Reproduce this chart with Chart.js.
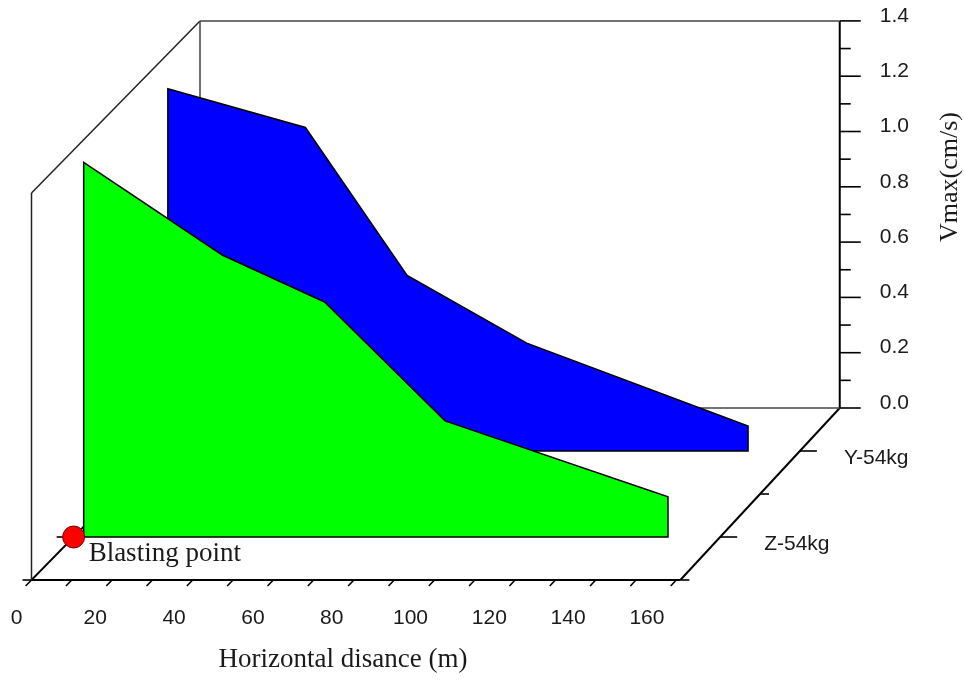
<!DOCTYPE html>
<html>
<head>
<meta charset="utf-8">
<script src="https://cdn.jsdelivr.net/npm/chart.js@4.4.1/dist/chart.umd.min.js"></script>
<style>
  html, body { margin: 0; padding: 0; background: #fff; }
  #wrap { width: 964px; height: 682px; position: relative; }
</style>
</head>
<body>
<div id="wrap"><canvas id="chart"></canvas></div>
<script>
// values
const distances = [2.5, 37, 62.5, 92.5, 148];      // horizontal distance (m)
const seriesNames = ['Z-54kg', 'Y-54kg'];
const vmaxZ = [1.355, 1.02, 0.85, 0.42, 0.145];     // cm/s
const vmaxY = [1.31, 1.17, 0.635, 0.39, 0.09];
const xTicks = [0, 20, 40, 60, 80, 100, 120, 140, 160];
const yTicks = [0.0, 0.2, 0.4, 0.6, 0.8, 1.0, 1.2, 1.4];
const blastDistance = 0;
const xMax = 161;
const yMax = 1.4;

// oblique 3D projection of the wall plot
const PX_X = 4.03, PX_Y = 276.5;   // pixels per unit on the front plane
const X0 = 31.5, Y0 = 580;         // front origin
const DEPTH_DX = 168.5, DEPTH_DY = 172;
const SHRINK = 0.014;              // slight perspective toward the back
const W = 964, H = 682;

function project(d, v, z) {
  return {
    x: d * (1 - SHRINK * z) + z * DEPTH_DX / PX_X,
    y: v + z * DEPTH_DY / PX_Y
  };
}
function depthOf(i) { return (i + 0.5) / seriesNames.length; }

function wallLine(pts, color, width) {
  return {
    data: pts.map(p => project(p[0], p[1], p[2])),
    borderColor: color, borderWidth: width, pointRadius: 0,
    fill: false, tension: 0, order: 10
  };
}
function wallSeries(vals, i, color) {
  const z = depthOf(i);
  const pts = [project(distances[0], 0, z)];
  vals.forEach((v, k) => pts.push(project(distances[k], v, z)));
  pts.push(project(distances[distances.length - 1], 0, z));
  pts.push(project(distances[0], 0, z));
  return {
    label: seriesNames[i], data: pts,
    borderColor: '#000', borderWidth: 1.5, backgroundColor: color,
    pointRadius: 0, fill: 'shape', tension: 0, order: 4 + i  // front wall on top
  };
}

const datasets = [
  wallLine([[0, yMax, 1], [xMax, yMax, 1]], '#444', 1.5),
  wallLine([[0, 0, 1], [xMax, 0, 1]], '#444', 1.5),
  wallLine([[0, 0, 1], [0, yMax, 1]], '#444', 1.5),
  wallLine([[0, yMax, 0], [0, yMax, 1]], '#222', 1.5),
  wallLine([[0, 0, 0], [0, yMax, 0]], '#222', 1.5),
  wallLine([[0, 0, 0], [0, 0, 1]], '#000', 1.8),
  wallLine([[xMax, 0, 1], [xMax, yMax, 1]], '#000', 2),
  wallLine([[0, 0, 0], [xMax, 0, 0]], '#000', 2.2),
  wallLine([[xMax, 0, 0], [xMax, 0, 1]], '#000', 2),
  wallSeries(vmaxY, 1, '#0000ff'),
  wallSeries(vmaxZ, 0, '#00ff00'),
  {
    data: [project(blastDistance, 0, depthOf(0))],
    showLine: false, pointRadius: 11, pointHoverRadius: 11,
    backgroundColor: '#ff0000', borderColor: '#700', borderWidth: 1, order: 0
  }
];

function toPx(chart, d, v, z) {
  const p = project(d, v, z);
  return { x: chart.scales.x.getPixelForValue(p.x), y: chart.scales.y.getPixelForValue(p.y) };
}
function stroke(ctx, x1, y1, x2, y2) {
  ctx.beginPath(); ctx.moveTo(x1, y1); ctx.lineTo(x2, y2); ctx.stroke();
}

const SANS = '"Liberation Sans", Arial, sans-serif';
const SERIF = '"Liberation Serif", "Times New Roman", serif';

const decor = {
  id: 'decor',
  beforeDatasetsDraw(chart) {
    const ctx = chart.ctx;
    ctx.save();
    ctx.strokeStyle = '#000';
    ctx.lineWidth = 1.6;
    // x ticks, every 10 m, slanted toward the viewer
    for (let d = 0; d <= 160; d += 10) {
      const a = toPx(chart, d, 0, 0), b = toPx(chart, d, 0, -0.035);
      stroke(ctx, a.x, a.y, b.x, b.y);
    }
    // vertical axis ticks
    for (let k = 0; k <= 14; k++) {
      const a = toPx(chart, xMax, k / 10, 1);
      stroke(ctx, a.x, a.y, a.x + (k % 2 === 0 ? 21 : 11), a.y);
    }
    // depth axis ticks, right and left
    for (let k = 0; k < seriesNames.length * 2; k++) {
      const z = k / (seriesNames.length * 2);
      const len = k % 2 === 1 ? 17 : 9;
      const r = toPx(chart, xMax, 0, z);
      stroke(ctx, r.x, r.y, r.x + len, r.y);
      const l = toPx(chart, 0, 0, z);
      stroke(ctx, l.x, l.y, l.x - len, l.y);
    }
    ctx.restore();
  },
  afterDatasetsDraw(chart) {
    const ctx = chart.ctx;
    ctx.save();
    ctx.fillStyle = '#1a1a1a';
    ctx.textBaseline = 'middle';
    ctx.font = '21px ' + SANS;
    ctx.textAlign = 'center';
    xTicks.forEach(d => {
      const a = toPx(chart, d, 0, 0);
      ctx.fillText(String(d), a.x - 15 - 0.09 * d, a.y + 38);
    });
    ctx.textAlign = 'left';
    yTicks.forEach(v => {
      const a = toPx(chart, xMax, v, 1);
      ctx.fillText(v.toFixed(1), a.x + 40, a.y - 5);
    });
    seriesNames.forEach((s, i) => {
      const a = toPx(chart, xMax, 0, depthOf(i));
      ctx.fillText(s, a.x + 44, a.y + 7);
    });
    ctx.font = '27px ' + SERIF;
    ctx.textBaseline = 'alphabetic';
    const bp = toPx(chart, blastDistance, 0, depthOf(0));
    ctx.fillText('Blasting point', bp.x + 15, bp.y + 24);
    ctx.textAlign = 'center';
    ctx.textBaseline = 'middle';
    ctx.fillText('Horizontal disance (m)', 343, 660);
    ctx.font = '26px ' + SERIF;
    ctx.translate(950, 177);
    ctx.rotate(-Math.PI / 2);
    ctx.fillText('Vmax(cm/s)', 0, 0);
    ctx.restore();
  }
};

new Chart(document.getElementById('chart'), {
  type: 'line',
  data: { datasets },
  options: {
    responsive: true,
    maintainAspectRatio: false,
    animation: false,
    layout: { padding: 0, autoPadding: false },
    plugins: { legend: { display: false }, tooltip: { enabled: false } },
    events: [],
    scales: {
      x: { type: 'linear', display: false, min: -X0 / PX_X, max: (W - X0) / PX_X },
      y: { type: 'linear', display: false, min: -(H - Y0) / PX_Y, max: Y0 / PX_Y }
    }
  },
  plugins: [decor]
});
</script>
</body>
</html>
